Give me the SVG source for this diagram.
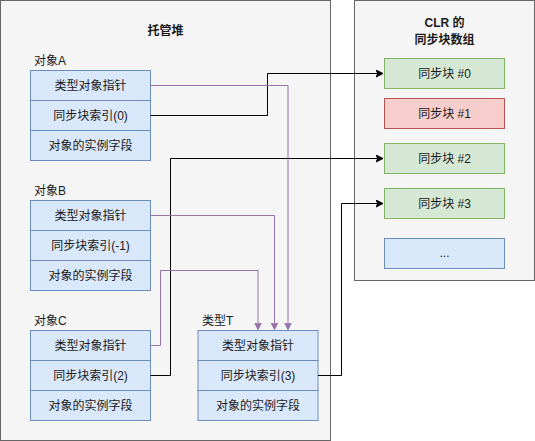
<svg xmlns="http://www.w3.org/2000/svg" width="535" height="441" viewBox="0 0 535 441">
<style>
text{font-family:"Liberation Sans","Noto Sans CJK SC",sans-serif;font-size:12px;fill:#1a1a1a}
.c{text-anchor:middle;dominant-baseline:central}
.l{dominant-baseline:central}
.b{font-weight:bold}
.cont{fill:#f5f5f5;stroke:#666666;stroke-width:1}
.blue{fill:#dae8fc;stroke:#6c8ebf;stroke-width:1}
.green{fill:#d5e8d4;stroke:#82b366;stroke-width:1}
.red{fill:#f8cecc;stroke:#b85450;stroke-width:1}
.k{fill:none;stroke:#000;stroke-width:1}
.p{fill:none;stroke:#9673a6;stroke-width:1}
</style>
<defs>
<marker id="ak" markerWidth="10" markerHeight="10" refX="7" refY="4" orient="auto" markerUnits="userSpaceOnUse">
<path d="M0,0.5 L7,4 L0,7.5 L1.8,4 Z" fill="#000" stroke="#000" stroke-width="1"/>
</marker>
<marker id="ap" markerWidth="10" markerHeight="10" refX="7" refY="4" orient="auto" markerUnits="userSpaceOnUse">
<path d="M0,0.5 L7,4 L0,7.5 L1.8,4 Z" fill="#9673a6" stroke="#9673a6" stroke-width="1"/>
</marker>
</defs>
<g id="heap">
<rect class="cont" x="0.5" y="0.5" width="330" height="440"/>
<text class="c b" x="165.5" y="31">托管堆</text>
</g>
<g id="clr">
<rect class="cont" x="354.5" y="0.5" width="180" height="280"/>
<text class="c b" x="444.5" y="23">CLR 的</text>
<text class="c b" x="444.5" y="39.5">同步块数组</text>
</g>
<g id="objA">
<text class="l" x="34" y="61">对象A</text>
<rect class="blue" x="30.5" y="70.5" width="120" height="30"/>
<rect class="blue" x="30.5" y="100.5" width="120" height="30"/>
<rect class="blue" x="30.5" y="130.5" width="120" height="30"/>
<text class="c" x="90.5" y="85.5">类型对象指针</text>
<text class="c" x="90.5" y="115.5">同步块索引(0)</text>
<text class="c" x="90.5" y="145.5">对象的实例字段</text>
</g>
<g id="objB">
<text class="l" x="34" y="191">对象B</text>
<rect class="blue" x="30.5" y="200.5" width="120" height="30"/>
<rect class="blue" x="30.5" y="230.5" width="120" height="30"/>
<rect class="blue" x="30.5" y="260.5" width="120" height="30"/>
<text class="c" x="90.5" y="215.5">类型对象指针</text>
<text class="c" x="90.5" y="245.5">同步块索引(-1)</text>
<text class="c" x="90.5" y="275.5">对象的实例字段</text>
</g>
<g id="objC">
<text class="l" x="34" y="321">对象C</text>
<rect class="blue" x="30.5" y="330.5" width="120" height="30"/>
<rect class="blue" x="30.5" y="360.5" width="120" height="30"/>
<rect class="blue" x="30.5" y="390.5" width="120" height="30"/>
<text class="c" x="90.5" y="345.5">类型对象指针</text>
<text class="c" x="90.5" y="375.5">同步块索引(2)</text>
<text class="c" x="90.5" y="405.5">对象的实例字段</text>
</g>
<g id="typeT">
<text class="l" x="202" y="321">类型T</text>
<rect class="blue" x="198" y="330.5" width="120" height="30"/>
<rect class="blue" x="198" y="360.5" width="120" height="30"/>
<rect class="blue" x="198" y="390.5" width="120" height="30"/>
<text class="c" x="258" y="345.5">类型对象指针</text>
<text class="c" x="258" y="375.5">同步块索引(3)</text>
<text class="c" x="258" y="405.5">对象的实例字段</text>
</g>
<g id="sync0">
<rect class="green" x="384.5" y="58.5" width="120" height="30"/>
<text class="c" x="444.5" y="73.5">同步块 #0</text>
</g>
<g id="sync1">
<rect class="red" x="384.5" y="98.5" width="120" height="30"/>
<text class="c" x="444.5" y="113.5">同步块 #1</text>
</g>
<g id="sync2">
<rect class="green" x="384.5" y="143.5" width="120" height="30"/>
<text class="c" x="444.5" y="158.5">同步块 #2</text>
</g>
<g id="sync3">
<rect class="green" x="384.5" y="188.5" width="120" height="30"/>
<text class="c" x="444.5" y="203.5">同步块 #3</text>
</g>
<g id="syncMore">
<rect class="blue" x="384.5" y="238.5" width="120" height="30"/>
<text class="c" x="444.5" y="252.5">...</text>
</g>
<g id="connectors">
<path class="k" d="M150.5,115.5 H267.5 V73.5 H383" marker-end="url(#ak)"/>
<path class="k" d="M150.5,375.5 H170.5 V158.5 H383" marker-end="url(#ak)"/>
<path class="k" d="M318,375.5 H341.5 V203.5 H383" marker-end="url(#ak)"/>
<path class="p" d="M150.5,85.5 H288 V329.5" marker-end="url(#ap)"/>
<path class="p" d="M150.5,215.5 H274.5 V329.5" marker-end="url(#ap)"/>
<path class="p" d="M150.5,345.5 H160.5 V270.5 H258 V329.5" marker-end="url(#ap)"/>
</g>
</svg>
